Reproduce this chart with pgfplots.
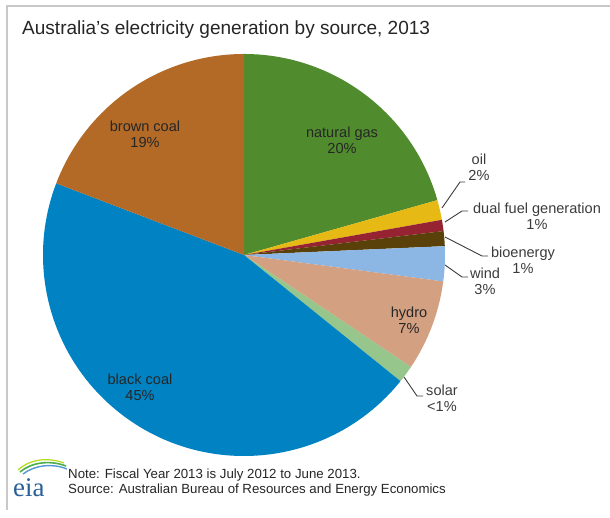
\documentclass[border=0pt]{standalone}
\usepackage{pgfplots}
\pgfplotsset{compat=1.18}
\usepackage{pgfplotstable}
\usepackage{fontspec}
\setmainfont{Liberation Sans}
\newfontfamily\seriffont{Liberation Serif}

\definecolor{slice0}{RGB}{80,140,45}   % natural gas
\definecolor{slice1}{RGB}{230,185,20}  % oil
\definecolor{slice2}{RGB}{150,35,50}   % dual fuel
\definecolor{slice3}{RGB}{90,65,10}    % bioenergy
\definecolor{slice4}{RGB}{140,182,228} % wind
\definecolor{slice5}{RGB}{212,160,130} % hydro
\definecolor{slice6}{RGB}{150,198,140} % solar
\definecolor{slice7}{RGB}{0,130,195}   % black coal
\definecolor{slice8}{RGB}{178,106,38}  % brown coal
\definecolor{labtext}{RGB}{38,38,38}
\definecolor{outtext}{RGB}{60,60,60}
\definecolor{framegray}{RGB}{200,200,200}
\definecolor{eiablue}{RGB}{40,95,150}

\pgfplotstableread[col sep=comma]{
source,share
natural gas,20.6
oil,1.6
dual fuel generation,0.9
bioenergy,1.2
wind,2.8
hydro,7.3
solar,1.4
black coal,45.0
brown coal,19.2
}\piedata

\begin{document}
\begin{tikzpicture}
\begin{scope}[x=1bp,y=1bp]
\useasboundingbox (0,0) rectangle (610,518);
\fill[white] (0,0) rectangle (610,518);
% frame
\draw[framegray, line width=2bp] (6.5,8) -- (6.5,512) -- (610,512);
% title
\node[anchor=base west, inner sep=0pt, text=black!85,
      font=\fontsize{19.1}{22}\selectfont] at (22,483)
      {Australia's electricity generation by source, 2013};
\end{scope}

\begin{axis}[at={(244bp,263bp)}, anchor=center, hide axis,
  x=201bp, y=201bp, xmin=-1, xmax=1, ymin=-1, ymax=1,
  scale only axis, clip=false]
\xdef\startang{90}
\pgfplotsforeachungrouped \i in {0,...,8}{%
  \pgfplotstablegetelem{\i}{share}\of\piedata
  \pgfmathsetmacro\endang{\startang-3.6*\pgfplotsretval}%
  \edef\doslice{\noexpand\fill[slice\i] (axis cs:0,0) -- (axis cs:{cos(\startang)},{sin(\startang)}) arc[start angle=\startang,end angle=\endang,radius=201bp] -- cycle;}%
  \doslice
  \xdef\startang{\endang}%
}
\end{axis}

\begin{scope}[x=1bp,y=1bp]
% labels inside
\begin{scope}[every node/.style={align=center, inner sep=0pt, text=labtext,
   font=\fontsize{14.6}{16}\selectfont}]
\node at (342,377.5) {natural gas\\20\%};
\node at (145,384) {brown coal\\19\%};
\node at (140,130.5) {black coal\\45\%};
\node at (409,198) {hydro\\7\%};
\end{scope}
% labels outside
\begin{scope}[every node/.style={align=center, inner sep=0pt, text=outtext,
   font=\fontsize{14.6}{16}\selectfont}]
\node at (479,350.5) {oil\\2\%};
\node at (537,301.5) {dual fuel generation\\1\%};
\node at (523,258) {bioenergy\\1\%};
\node at (485,236.5) {wind\\3\%};
\node at (442,119.5) {solar\\<1\%};
\end{scope}
% leader lines
\begin{scope}[outtext, line width=0.9bp]
\draw (442,310) -- (460,336) -- (465,336);
\draw (445,296) -- (462,307) -- (468,307);
\draw (445,281) -- (482,262) -- (488,262);
\draw (445,253) -- (462,241) -- (468,241);
\draw (404,141) -- (417,122) -- (423,122);
\end{scope}
% footnote
\node[anchor=base west, inner sep=0pt, text=black!85,
      font=\fontsize{13.3}{14}\selectfont] at (68,39) {Note: Fiscal Year 2013 is July 2012 to June 2013.};
\node[anchor=base west, inner sep=0pt, text=black!85,
      font=\fontsize{13.3}{14}\selectfont] at (68,24) {Source: Australian Bureau of Resources and Energy Economics};
% eia logo
\node[anchor=base west, inner sep=0pt, text=eiablue,
      font=\seriffont\fontsize{27}{27}\selectfont] at (13,21) {eia};
\draw[line width=1.6bp, green!55!black!70] (20,46) .. controls (32,56) and (50,58) .. (66,52);
\draw[line width=1.4bp, cyan!60!blue!70] (23,44) .. controls (35,53) and (52,55) .. (67,49);
\draw[line width=1.2bp, yellow!70!green] (18,48) .. controls (30,59) and (48,61) .. (64,55);
\end{scope}
\end{tikzpicture}
\end{document}
